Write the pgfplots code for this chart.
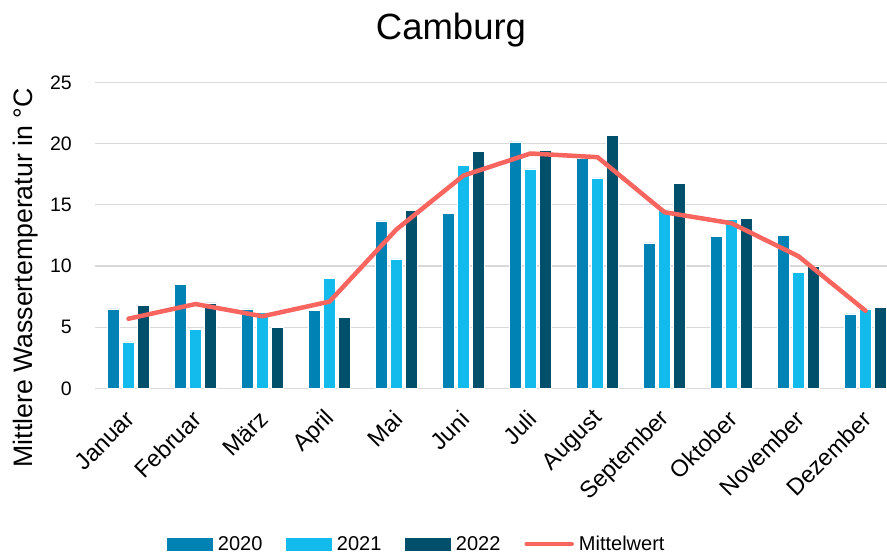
\documentclass[border=0pt]{standalone}
\usepackage{fontspec}
\setmainfont{Liberation Sans}
\usepackage{pgfplots}
\pgfplotsset{compat=1.18}

\definecolor{cA}{HTML}{0082B4}
\definecolor{cB}{HTML}{12BBEB}
\definecolor{cC}{HTML}{00506C}
\definecolor{cMean}{HTML}{F8645E}
\definecolor{gridgray}{HTML}{D9D9D9}

\begin{document}
\begin{tikzpicture}
\useasboundingbox (-95pt,-165.5pt) rectangle (792pt,388.5pt);
\begin{axis}[
    scale only axis,
    width=792pt, height=306pt,
    xmin=-0.5, xmax=11.32,
    ymin=0, ymax=25,
    ytick={0,5,...,25},
    xtick=data,
    xticklabels={Januar,Februar,März,April,Mai,Juni,Juli,August,September,Oktober,November,Dezember},
    major tick length=0pt,
    axis line style={draw=none},
    ymajorgrids,
    grid style={gridgray, line width=1.2pt},
    /pgf/number format/assume math mode=true,
    yticklabel style={font=\fontsize{19.5}{22}\selectfont, anchor=east, inner sep=0pt, xshift=-23pt},
    xticklabel style={font=\fontsize{23.5}{26}\selectfont, rotate=45, anchor=east, inner sep=0pt, yshift=-20pt, xshift=-17.7pt},
    ybar=3pt, bar width=12pt,
    legend columns=4,
    legend style={draw=none, fill=none, at={(0.4053,-0.5082)}, anchor=center,
        font=\fontsize{20}{22}\selectfont,
        nodes={inner sep=0pt},
        /tikz/every odd column/.append style={column sep=5pt},
        /tikz/every even column/.append style={column sep=24pt}},
]
\addplot[fill=cA, draw=white, line width=0.5pt,
    legend image code/.code={\fill[cA] (0pt,-6.2pt) rectangle (45pt,6.2pt);}]
    coordinates {(0,6.5) (1,8.5) (2,6.5) (3,6.4) (4,13.7) (5,14.3) (6,20.15) (7,18.8) (8,11.9) (9,12.4) (10,12.5) (11,6.1)};
\addlegendentry{2020}
\addplot[fill=cB, draw=white, line width=0.5pt,
    legend image code/.code={\fill[cB] (0pt,-6.2pt) rectangle (45pt,6.2pt);}]
    coordinates {(0,3.8) (1,4.85) (2,6.2) (3,9.0) (4,10.6) (5,18.25) (6,17.95) (7,17.2) (8,14.6) (9,13.8) (10,9.5) (11,6.5)};
\addlegendentry{2021}
\addplot[fill=cC, draw=white, line width=0.5pt,
    legend image code/.code={\fill[cC] (0pt,-6.2pt) rectangle (45pt,6.2pt);}]
    coordinates {(0,6.8) (1,7.0) (2,5.0) (3,5.8) (4,14.55) (5,19.4) (6,19.45) (7,20.7) (8,16.75) (9,13.9) (10,10.0) (11,6.6)};
\addlegendentry{2022}
\addplot[sharp plot, cMean, line width=4.5pt, line join=round, line cap=round, mark=none,
    legend image code/.code={\draw[cMean, line width=4.5pt, line cap=round] (2pt,0pt) -- (47pt,0pt);}]
    coordinates {(0,5.7) (1,6.9) (2,5.9) (3,7.1) (4,13.0) (5,17.4) (6,19.2) (7,18.9) (8,14.4) (9,13.5) (10,10.8) (11,6.35)};
\addlegendentry{Mittelwert}
\end{axis}
\node[anchor=base, font=\fontsize{36.5}{40}\selectfont] at (356pt,348.5pt) {Camburg};
\node[anchor=base, rotate=90, font=\fontsize{26.7}{29}\selectfont] at (-62pt,110.5pt) {Mittlere Wassertemperatur in °C};
\end{tikzpicture}
\end{document}
